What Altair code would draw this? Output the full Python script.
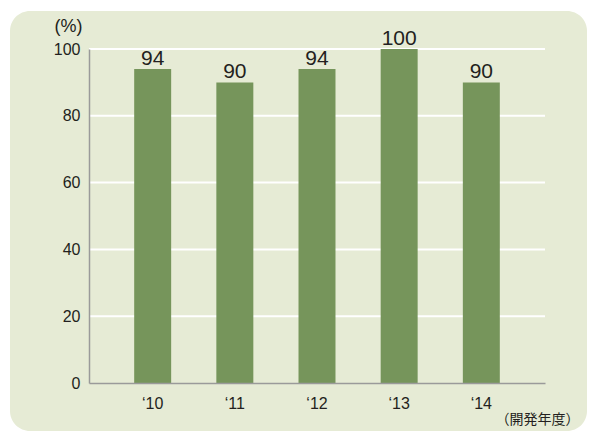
import altair as alt
import pandas as pd

years = ["‘10", "‘11", "‘12", "‘13", "‘14"]
values = [94, 90, 94, 100, 90]
grid_values = [20, 40, 60, 80, 100]

df = pd.DataFrame({"year": years, "value": values})
grid_df = pd.DataFrame({"g": grid_values})

W, H = 456, 334
PL, PT, PR, PB = 81, 41, 42, 48

FONT = "Liberation Sans"
TXT = "#231f20"

xscale = alt.Scale(paddingInner=0.55, paddingOuter=0.55)
yscale = alt.Scale(domain=[0, 100], nice=False)

yaxis = alt.Axis(title="(%)", values=[0, 20, 40, 60, 80, 100],
                 grid=False, ticks=False, labelFontSize=16,
                 labelFont=FONT, labelColor=TXT, labelPadding=9,
                 domainColor="#9a9a9a", domainWidth=1.5,
                 titleAngle=0, titleFont=FONT, titleFontSize=18,
                 titleFontWeight="normal", titleColor=TXT,
                 titleX=-21, titleY=-23, titleAlign="center",
                 titleBaseline="middle", zindex=1)

bg = alt.Chart(df).mark_rect(
    color="#e6ebd5", cornerRadius=20
).encode(
    x=alt.value(-PL + 2), x2=alt.value(W + PR),
    y=alt.value(-PT + 3), y2=alt.value(H + PB)
).transform_filter("datum.year == '‘10'")

grid = alt.Chart(grid_df).mark_rule(color="white", strokeWidth=2).encode(
    y=alt.Y("g:Q", scale=yscale, axis=yaxis),
    x=alt.value(0), x2=alt.value(W)
)

bars = alt.Chart(df).mark_bar(color="#76955b").encode(
    x=alt.X("year:N", sort=years, scale=xscale,
            axis=alt.Axis(title="（開発年度）", labelAngle=0, labelFontSize=16,
                          labelFont=FONT, labelColor=TXT, labelPadding=12,
                          ticks=False, domainColor="#9a9a9a", domainWidth=1.5,
                          titleFont="Noto Sans CJK JP", titleFontSize=14,
                          titleFontWeight="normal", titleColor=TXT,
                          titleX=448, titleY=36, titleAnchor="start",
                          titleAlign="center", titleBaseline="middle",
                          zindex=1)),
    y=alt.Y("value:Q", scale=yscale, axis=yaxis),
)

labels = alt.Chart(df).mark_text(
    baseline="alphabetic", dy=-4, fontSize=21, font=FONT, color=TXT
).encode(
    x=alt.X("year:N", sort=years, scale=xscale),
    y=alt.Y("value:Q", scale=yscale, axis=yaxis),
    text=alt.Text("value:Q")
)

chart = alt.layer(bg, grid, bars, labels).properties(
    width=W, height=H,
    autosize=alt.AutoSizeParams(type="none"),
    padding={"left": PL, "top": PT, "right": PR, "bottom": PB},
    background="white"
).configure_view(stroke=None)

chart.save("out.html", embed_options={"renderer": "svg", "actions": False})
